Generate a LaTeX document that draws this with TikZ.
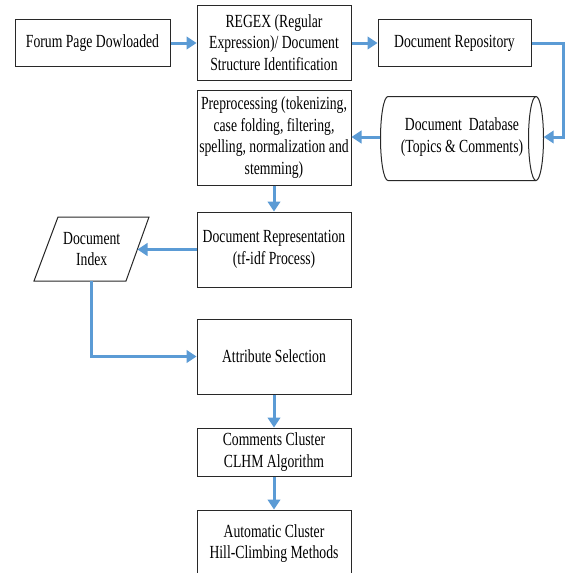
\documentclass[tikz,border=0pt]{standalone}
\usepackage{fontspec}
\setmainfont{Liberation Serif}[FakeStretch=0.74]
\usetikzlibrary{arrows.meta}
\definecolor{arrowblue}{RGB}{91,155,213}
\definecolor{edgegray}{RGB}{40,40,40}
\begin{document}
\begin{tikzpicture}[x=1pt,y=-1pt,
  txt/.style={align=center, font=\fontsize{18.5}{21.7}\selectfont, inner sep=1pt},
  box/.style={txt, draw=edgegray, line width=1pt, fill=white},
  outline/.style={draw=edgegray, line width=1pt},
  flow/.style={draw=arrowblue, line width=3pt, -{Triangle[length=10pt,width=12.5pt]}}]
\useasboundingbox[fill=white] (0,0) rectangle (567,573);

\node[box, minimum width=155pt, minimum height=47.5pt] (forum) at (92.5,43) {Forum Page Dowloaded};
\node[box, minimum width=154pt, minimum height=75pt] (regex) at (274,42.5) {REGEX (Regular\\Expression)/ Document\\Structure Identification};
\node[box, minimum width=153pt, minimum height=47.5pt] (repo) at (454.5,43) {Document Repository};

% database cylinder
\draw[outline] (536,96.5) -- (388,96.5) arc[start angle=90, end angle=270, x radius=7.5pt, y radius=42pt] -- (536,180.5);
\draw[outline] (536,138.5) ellipse [x radius=7.5pt, y radius=42pt];
\node[txt, minimum width=163pt, minimum height=84pt] (db) at (462,137) {Document \ Database\\(Topics \& Comments)};

\node[box, minimum width=154pt, minimum height=95pt] (pre) at (274,137.5) {Preprocessing (tokenizing,\\case folding, filtering,\\spelling, normalization and\\stemming)};
\node[box, minimum width=154pt, minimum height=75pt] (rep) at (274,249.5) {Document Representation\\(tf-idf Process)};

% document index parallelogram
\draw[outline] (58,217) -- (149,217) -- (126,281) -- (34,281) -- cycle;
\node[txt] (idx) at (91.75,249) {Document\\Index};
\coordinate (idxR) at (137.5,249.5);
\coordinate (idxB) at (91.75,281);

\node[box, minimum width=154pt, minimum height=75pt] (attr) at (274,356.5) {Attribute Selection};
\node[box, minimum width=154pt, minimum height=48pt] (comm) at (274,452) {Comments Cluster\\CLHM Algorithm};
\node[box, minimum width=154pt, minimum height=67pt] (auto) at (274,543.5) {Automatic Cluster\\Hill-Climbing Methods};

\draw[flow] (forum.east) -- (forum.east -| regex.west);
\draw[flow] (regex.east |- repo.west) -- (repo.west);
\draw[flow] (repo.east) -- ++(32,0) |- (db.east);
\draw[flow] (db.west) -- (db.west -| pre.east);
\draw[flow] (pre.south) -- (rep.north);
\draw[flow] (rep.west) -- (idxR);
\draw[flow] (idxB) |- (attr.west);
\draw[flow] (attr.south) -- (comm.north);
\draw[flow] (comm.south) -- (auto.north);
\end{tikzpicture}
\end{document}
